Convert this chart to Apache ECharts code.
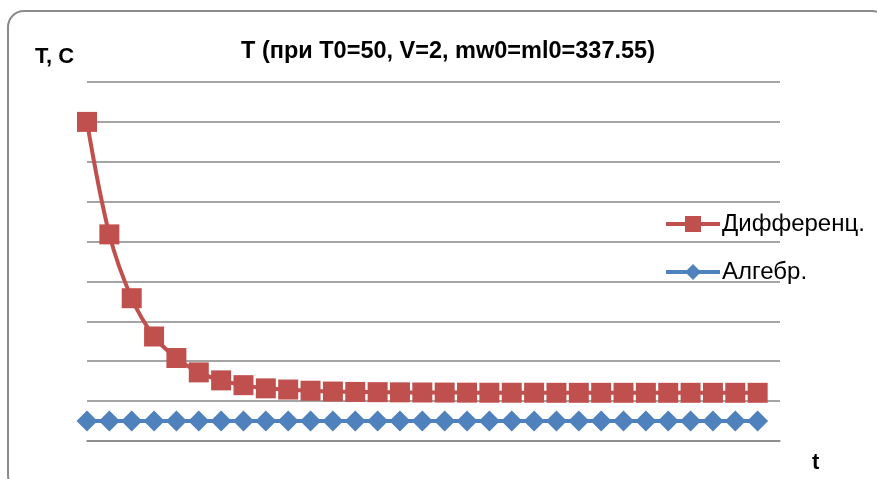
<!DOCTYPE html>
<html>
<head>
<meta charset="utf-8">
<script src="https://cdn.jsdelivr.net/npm/echarts@6/dist/echarts.min.js"></script>
<style>
html,body{margin:0;padding:0;background:#fff;}
#c{width:877px;height:479px;}
</style>
</head>
<body>
<div id="c"></div>
<script>
// ---- data ----
const tCategories = ['0','1','2','3','4','5','6','7','8','9','10','11','12','13','14','15','16','17','18','19','20','21','22','23','24','25','26','27','28','29','30','31'];
const diffValues = [50, 35.9, 27.9, 23.1, 20.4, 18.6, 17.6, 17.0, 16.6, 16.45, 16.3, 16.2, 16.15, 16.12, 16.1, 16.08, 16.07, 16.06, 16.05, 16.05, 16.05, 16.04, 16.04, 16.04, 16.04, 16.04, 16.04, 16.04, 16.04, 16.04, 16.04];
const algValues = [12.5, 12.5, 12.5, 12.5, 12.5, 12.5, 12.5, 12.5, 12.5, 12.5, 12.5, 12.5, 12.5, 12.5, 12.5, 12.5, 12.5, 12.5, 12.5, 12.5, 12.5, 12.5, 12.5, 12.5, 12.5, 12.5, 12.5, 12.5, 12.5, 12.5, 12.5];
const seriesNames = ['Дифференц.', 'Алгебр.'];
const chartTitle = 'T (при T0=50, V=2, mw0=ml0=337.55)';
const yName = 'T, C';
const xName = 't';

const RED = '#C0504D', BLUE = '#4F81BD', GRID = '#878787';
const FONT = '"Liberation Sans", Arial, sans-serif';

const chart = echarts.init(document.getElementById('c'), null, {renderer: 'canvas'});
chart.setOption({
  animation: false,
  backgroundColor: '#fff',
  title: {
    text: chartTitle,
    left: 443, top: 35, textAlign: 'center',
    textStyle: {fontFamily: FONT, fontWeight: 'bold', fontSize: 23.5, color: '#000'}
  },
  graphic: [
    {type: 'rect', shape: {x: 8, y: 11, width: 880, height: 480, r: 16},
     style: {fill: null, stroke: '#8a8a8a', lineWidth: 2}, silent: true, z: 100},
    {type: 'text', left: 35, top: 46, style: {text: yName, font: 'bold 22px ' + FONT, fill: '#000'}},
    {type: 'text', left: 812, top: 452, style: {text: xName, font: 'bold 22px ' + FONT, fill: '#000'}}
  ],
  legend: {
    orient: 'vertical',
    left: 664, top: 212, padding: 0,
    itemWidth: 54, itemHeight: 20, itemGap: 24,
    data: seriesNames,
    lineStyle: {width: 4},
    textStyle: {fontFamily: FONT, fontSize: 24, color: '#000', padding: [0,0,0,-3]}
  },
  grid: {left: 87, right: 97, top: 82, bottom: 38, containLabel: false},
  xAxis: {
    type: 'category', data: tCategories, boundaryGap: false,
    axisLine: {show: true, lineStyle: {color: GRID, width: 1.5}},
    axisTick: {show: false}, axisLabel: {show: false}, splitLine: {show: false}
  },
  yAxis: {
    type: 'value', min: 10, max: 55, interval: 5,
    axisLine: {show: false}, axisTick: {show: false}, axisLabel: {show: false},
    splitLine: {show: true, lineStyle: {color: GRID, width: 1.5}}
  },
  series: [
    {
      name: seriesNames[0], type: 'line', data: diffValues, smooth: 0.35,
      symbol: 'rect', symbolSize: 20, showAllSymbol: true,
      lineStyle: {color: RED, width: 4}, itemStyle: {color: RED}
    },
    {
      name: seriesNames[1], type: 'line', data: algValues,
      symbol: 'diamond', symbolSize: 21, showAllSymbol: true,
      lineStyle: {color: BLUE, width: 4}, itemStyle: {color: BLUE}
    }
  ]
});
</script>
</body>
</html>
